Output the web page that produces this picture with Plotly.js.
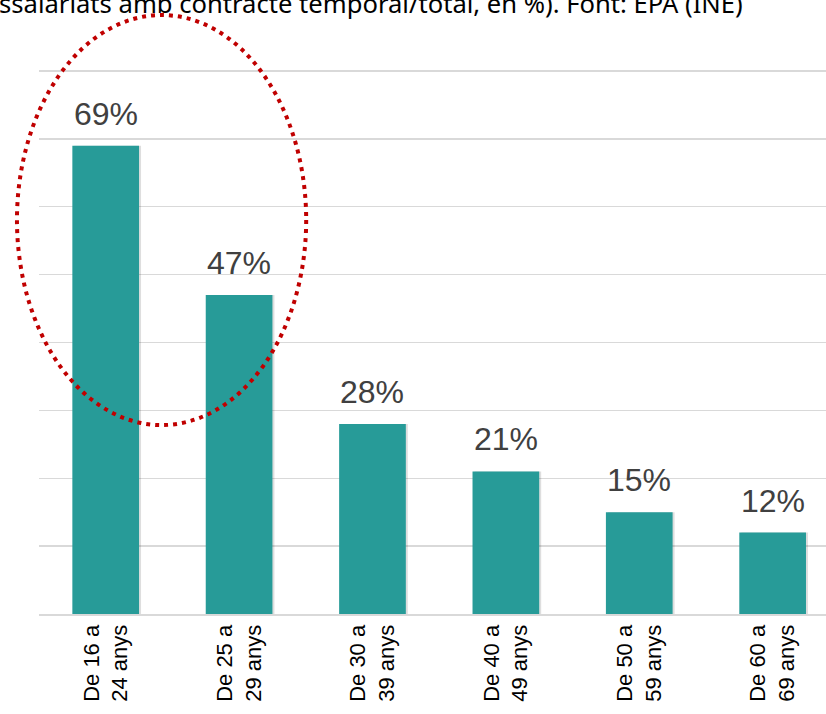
<!DOCTYPE html>
<html><head><meta charset="utf-8">
<script src="https://cdn.plot.ly/plotly-3.0.1.min.js"></script>
<style>html,body{margin:0;padding:0;overflow:hidden;background:#fff}</style>
</head><body><div id="chart" style="width:826px;height:714px"></div>
<script>
const categories = ["De 16 a<br>24 anys","De 25 a<br>29 anys","De 30 a<br>39 anys","De 40 a<br>49 anys","De 50 a<br>59 anys","De 60 a<br>69 anys"];
const values = [69, 47, 28, 21, 15, 12];
const labels = ["69%","47%","28%","21%","15%","12%"];
const titleText = "ssalariats amb contracte temporal/total, en %). Font: EPA (INE)";

const shadow = {
  type: 'bar', x: categories, y: values, width: 0.5, offset: -0.235,
  marker: {color: 'rgba(0,0,0,0.13)', line: {width: 0}}, hoverinfo: 'skip'
};
const trace = {
  type: 'bar', x: categories, y: values, width: 0.5,
  marker: {color: '#279B98', line: {width: 0}},
  hoverinfo: 'skip'
};
const ann = categories.map((c,i)=>({
  x: c, y: values[i], xref:'x', yref:'y', text: labels[i], showarrow:false,
  yanchor:'bottom', yshift: 12, font:{family:'Liberation Sans, Arial', size:32, color:'#404040'}
}));
ann.push({xref:'paper', yref:'paper', x:-0.054, y:1.153, xanchor:'left', yanchor:'top', showarrow:false,
  text:titleText, font:{family:'Noto Sans', size:25.6, color:'#000'}});
const layout = {
  width: 826, height: 714,
  margin: {l:39, r:0, t:68, b:100, pad:0},
  paper_bgcolor:'#fff', plot_bgcolor:'#fff',
  barmode: 'overlay', showlegend:false,
  xaxis: {type:'category', range:[-0.5, 5.4], tickangle:-90, ticks:'', showline:true, linecolor:'#d9d9d9', linewidth:2,
    tickfont:{family:'Liberation Sans, Arial', size:22, color:'#000'}, fixedrange:true},
  yaxis: {range:[0,80.44], dtick:10, showticklabels:false, showgrid:true, gridcolor:'#d9d9d9', gridwidth:1.5, zeroline:false, ticks:'', fixedrange:true},
  annotations: ann,
  shapes: [{type:'circle', xref:'paper', yref:'paper', x0:-0.028, x1:0.3395, y0:0.346, y1:1.097,
    line:{color:'#C00000', width:4, dash:'4px,5px'}, layer:'above'}]
};
Plotly.newPlot('chart', [shadow, trace], layout, {displayModeBar:false, staticPlot:true});
</script></body></html>
